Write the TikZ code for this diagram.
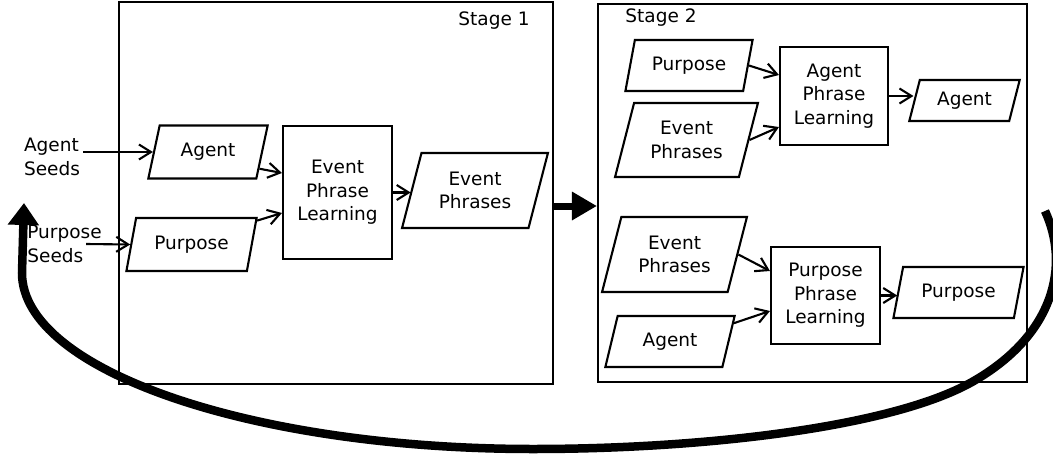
\documentclass[tikz,border=0pt]{standalone}
\usepackage{fontspec}
\setmainfont{DejaVu Sans}
\usetikzlibrary{shapes.geometric,arrows.meta}

\begin{document}
\begin{tikzpicture} [x=1pt, y=-1pt]
    \tikzstyle{every node} = [align=center, font=\fontsize{18.5}{23.5}\selectfont]
    \tikzstyle{stage} = [draw, line width=2.1pt, inner sep=0pt]
    \tikzstyle{data} = [draw, line width=2.1pt, trapezium, trapezium left angle=71, trapezium right angle=109, trapezium stretches=true, inner sep=1pt]
    \tikzstyle{learn} = [draw, line width=2.1pt, inner sep=1pt]
    \tikzstyle{flow} = [line width=2.1pt, -{Straight Barb[length=12pt,width=15pt]}]
    \tikzstyle{bigflow} = [line width=7pt, -{Triangle[length=25pt,width=27pt]}]
    \tikzstyle{loop} = [line width=8.5pt, -{Triangle[length=22pt,width=30pt]}]
    \useasboundingbox (0,0) rectangle (1053,458);

    % the two stages
    \node [stage, minimum width=434pt, minimum height=382pt] (stage1) at (336,193) {};
    \node [stage, minimum width=429pt, minimum height=378pt] (stage2) at (812.5,193) {};
    \node (stage1lbl) at (494,21) {Stage 1};
    \node (stage2lbl) at (661,18) {Stage 2};

    % stage 1
    \node [align=left] (agentseeds) at (52,157) {Agent\\Seeds};
    \node [align=left] (purposeseeds) at (64.5,244) {Purpose\\Seeds};
    \node [data, minimum width=120pt, minimum height=53pt] (agent1) at (208,152) {Agent};
    \node [data, minimum width=131pt, minimum height=53pt] (purpose1) at (191.5,244.5) {Purpose};
    \node [learn, minimum width=109pt, minimum height=133pt] (epl) at (337.5,192.5) {Event\\Phrase\\Learning};
    \node [data, minimum width=146pt, minimum height=75pt] (evph1) at (475,190.5) {Event\\Phrases};

    \draw [flow] (agentseeds.east |- agent1.west) -- (agent1.west);
    \draw [flow] ([xshift=-19pt]purposeseeds.east) -- (purpose1.west);
    \draw [flow] (agent1.-18) -- ([yshift=19.5pt]epl.west);
    \draw [flow] (purpose1.20) -- ([yshift=-20.5pt]epl.west);
    \draw [flow] (epl.east) -- (epl.east -| evph1.west);

    % stage 2, agent part
    \node [data, minimum width=128pt, minimum height=51pt] (purpose2) at (689,65.5) {Purpose};
    \node [data, minimum width=143pt, minimum height=74pt] (evph2) at (686.5,140) {Event\\Phrases};
    \node [learn, minimum width=108pt, minimum height=98pt] (apl) at (834,96) {Agent\\Phrase\\Learning};
    \node [data, minimum width=111pt, minimum height=41pt] (agent2) at (964.5,100.5) {Agent};

    \draw [flow] (purpose2.east) -- ([yshift=21pt]apl.west);
    \draw [flow] (evph2.east) -- ([yshift=-31pt]apl.west);
    \draw [flow] (apl.east) -- (apl.east -| agent2.west);

    % stage 2, purpose part
    \node [data, minimum width=145pt, minimum height=75pt] (evph3) at (674.5,254.5) {Event\\Phrases};
    \node [data, minimum width=130pt, minimum height=51pt] (agent3) at (670,341.5) {Agent};
    \node [learn, minimum width=109pt, minimum height=97pt] (ppl) at (825.5,295.5) {Purpose\\Phrase\\Learning};
    \node [data, minimum width=131pt, minimum height=51pt] (purpose3) at (958.5,292.5) {Purpose};

    \draw [flow] (evph3.east) -- ([yshift=24.5pt]ppl.west);
    \draw [flow] (agent3.16) -- ([yshift=-15.5pt]ppl.west);
    \draw [flow] (ppl.east) -- (ppl.east -| purpose3.west);

    % stage 1 feeds stage 2, results go back as seeds
    \draw [bigflow] ([yshift=-13pt]stage1.east) -- ([yshift=-13pt]stage1.east -| stage2.west);
    \coordinate (loopstart) at (1045,211);
    \coordinate (loopend) at (24,203);
    \draw [loop] (loopstart) .. controls (1070,265) and (1055,335) .. (972,382)
        .. controls (890,428) and (700,449) .. (533,449)
        .. controls (251,449) and (22,370) .. (22,273) -- (loopend);
\end{tikzpicture}
\end{document}
